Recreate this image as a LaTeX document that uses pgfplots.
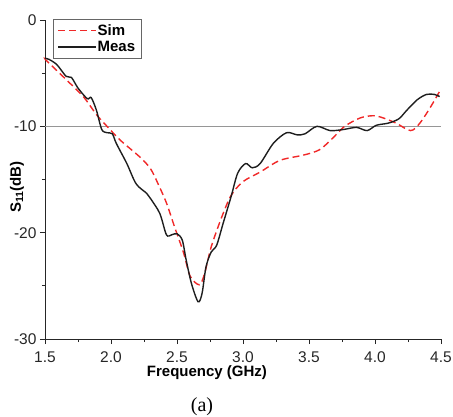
\documentclass[border=0pt]{standalone}
\usepackage{pgfplots}
\pgfplotsset{compat=1.18}
\usepackage{fontspec}
\setmainfont{Liberation Sans}
\newfontfamily\capfont{Liberation Serif}
\definecolor{simred}{RGB}{240,40,40}
\definecolor{measblk}{RGB}{30,30,30}
\definecolor{refgray}{RGB}{150,150,150}
\begin{document}
\begin{tikzpicture}
\begin{axis}[
  scale only axis, width=396pt, height=319pt,
  xmin=1.5, xmax=4.5, ymin=-30, ymax=0,
  axis x line=bottom, axis y line=left,
  axis line style={-, line width=0.9pt, color=black!85},
  xtick={1.5,2.0,2.5,3.0,3.5,4.0,4.5}, minor x tick num=1,
  ytick={-30,-20,-10,0}, minor y tick num=1,
  tick align=outside, major tick length=5pt, minor tick length=3pt,
  tick style={line width=0.9pt, color=black!85},
  xticklabel style={/pgf/number format/fixed, /pgf/number format/fixed zerofill, /pgf/number format/precision=1, yshift=-4pt},
  /pgf/number format/assume math mode=true,
  ticklabel style={font=\fontsize{15.5}{18}\selectfont, text=black!85},
  xlabel={\textbf{Frequency (GHz)}},
  ylabel={\textbf{S\textsubscript{11}(dB)}},
  xlabel style={at={(rel axis cs:0.409,-0.1066)}, anchor=center},
  ylabel style={at={(rel axis cs:-0.0707,0.476)}, anchor=center, rotate=0},
  label style={font=\fontsize{15}{18}\selectfont},
  legend style={at={(rel axis cs:0.0202,1.003)}, anchor=north west,
    font=\fontsize{15}{18}\selectfont\bfseries, draw=black!60,
    inner xsep=4.5pt, inner ysep=3.5pt, row sep=1.5pt,
    nodes={inner sep=1.5pt}},
  legend cell align=left,
  legend image code/.code={\draw[#1] plot coordinates {(0pt,0pt) (18pt,0pt) (37pt,0pt)};},
  clip=false,
]
\addplot[refgray, line width=1.2pt, forget plot] coordinates {(1.5,-10) (4.5,-10)};
\addplot[simred, line width=1.4pt, dash pattern=on 7pt off 4pt, smooth] coordinates {
(1.50,-3.6) (1.51,-3.8) (1.66,-5.6) (1.79,-7.2) (1.89,-8.9) (1.97,-10.0)
(2.07,-11.3) (2.22,-12.9) (2.30,-14.0) (2.36,-15.5) (2.42,-17.2) (2.48,-19.4)
(2.55,-21.9) (2.60,-24.1) (2.67,-24.9) (2.71,-23.8) (2.76,-21.3) (2.84,-18.5)
(2.91,-16.5) (3.00,-15.2) (3.13,-14.3) (3.28,-13.2) (3.46,-12.7) (3.58,-12.2)
(3.68,-11.1) (3.77,-10.0) (3.89,-9.2) (3.99,-9.0) (4.06,-9.2) (4.16,-9.7)
(4.27,-10.4) (4.34,-9.7) (4.42,-8.2) (4.49,-6.7)
};
\addlegendentry{Sim}
\addplot[measblk, line width=1.4pt, smooth] coordinates {
(1.50,-3.6) (1.53,-3.7) (1.59,-4.2) (1.66,-5.3) (1.70,-5.4) (1.75,-6.4)
(1.82,-7.4) (1.85,-7.3) (1.89,-8.5) (1.93,-10.3) (1.97,-10.6) (2.01,-10.7)
(2.04,-11.6) (2.12,-13.5) (2.19,-15.4) (2.27,-16.3) (2.30,-16.8) (2.37,-18.2)
(2.42,-20.2) (2.46,-20.2) (2.50,-20.1) (2.54,-20.7) (2.57,-22.6) (2.61,-24.8)
(2.66,-26.5) (2.69,-25.7) (2.72,-23.2) (2.76,-21.8) (2.80,-21.2) (2.85,-19.1)
(2.91,-16.6) (2.96,-14.4) (3.02,-13.5) (3.07,-13.9) (3.13,-13.5) (3.23,-11.6)
(3.33,-10.6) (3.41,-10.8) (3.47,-10.7) (3.56,-10.0) (3.66,-10.4) (3.76,-10.3)
(3.86,-10.1) (3.94,-10.4) (4.01,-9.9) (4.10,-9.7) (4.18,-9.3) (4.24,-8.5)
(4.32,-7.5) (4.39,-7.0) (4.45,-7.0) (4.49,-7.2)
};
\addlegendentry{Meas}
\coordinate (O) at (rel axis cs:0,0);
\end{axis}
\node[font=\capfont\fontsize{20}{24}\selectfont] at ([shift={(157pt,-68pt)}]O) {(a)};
\pgfresetboundingbox
\path[use as bounding box] ([shift={(-45pt,-77pt)}]O) rectangle ([shift={(408pt,339pt)}]O);
\end{tikzpicture}
\end{document}
